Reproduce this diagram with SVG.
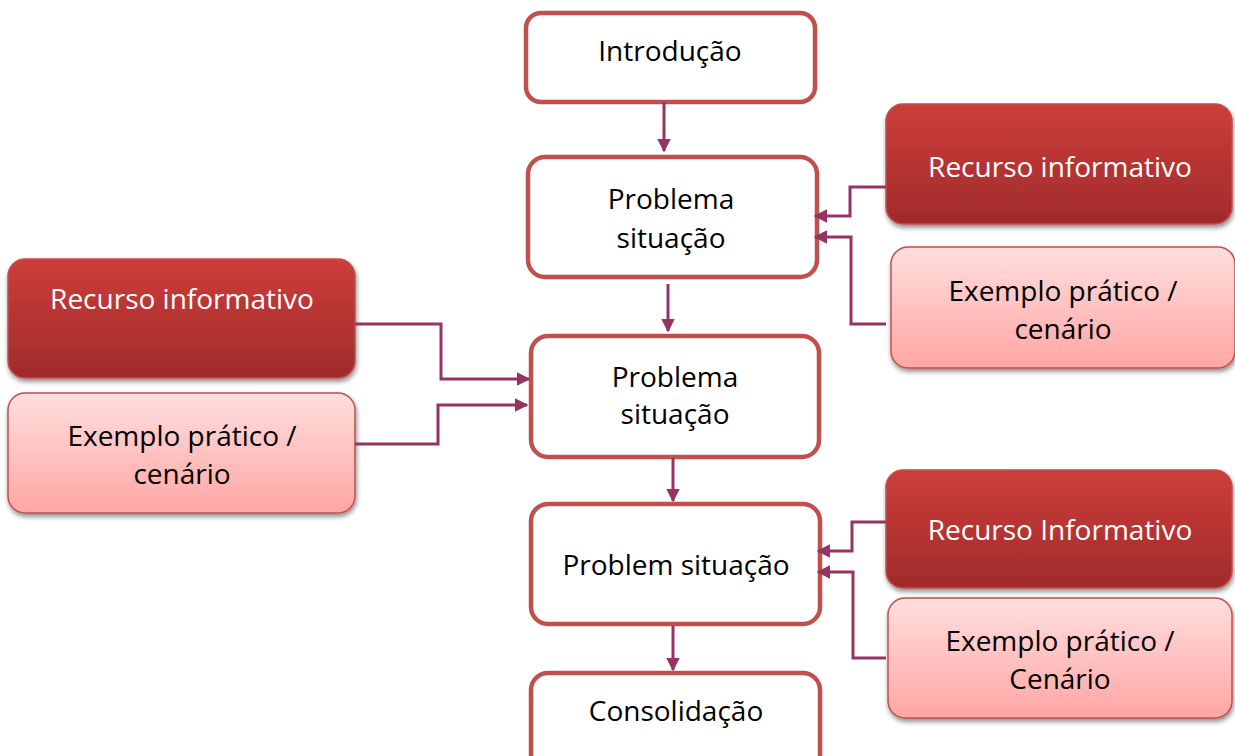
<svg xmlns="http://www.w3.org/2000/svg" width="1235" height="756" viewBox="0 0 1235 756">
  <defs>
    <linearGradient id="gDark" x1="0" y1="0" x2="0" y2="1">
      <stop offset="0" stop-color="#cd3d3a"/>
      <stop offset="1" stop-color="#a02b2b"/>
    </linearGradient>
    <linearGradient id="gLight" x1="0" y1="0" x2="0" y2="1">
      <stop offset="0" stop-color="#ffdede"/>
      <stop offset="1" stop-color="#ffa6a4"/>
    </linearGradient>
    <filter id="shadow" x="-10%" y="-10%" width="125%" height="130%">
      <feGaussianBlur in="SourceAlpha" stdDeviation="2.5"/>
      <feOffset dx="1" dy="3" result="b"/>
      <feComponentTransfer><feFuncA type="linear" slope="0.45"/></feComponentTransfer>
      <feMerge><feMergeNode/><feMergeNode in="SourceGraphic"/></feMerge>
    </filter>
    <marker id="arrow" viewBox="0 0 10 10" refX="9" refY="5" markerWidth="4.5" markerHeight="4.5" markerUnits="strokeWidth" orient="auto">
      <path d="M0,0 L10,5 L0,10 z" fill="#953463"/>
    </marker>
  </defs>
  <style>
    .step { fill: #ffffff; stroke: #c0504d; stroke-width: 4.5; }
    .dark { fill: url(#gDark); stroke: #c0504d; stroke-width: 1.5; filter: url(#shadow); }
    .light { fill: url(#gLight); stroke: #c0504d; stroke-width: 1.5; filter: url(#shadow); }
    text { font-family: "Open Sans", "Noto Sans", "Liberation Sans", sans-serif; font-size: 28px; text-anchor: middle; fill: #000000; }
    .white { fill: #ffffff; }
    .conn { fill: none; stroke: #953463; stroke-width: 3; marker-end: url(#arrow); }
  </style>

  <!-- main sequence -->
  <g id="introducao">
    <rect class="step" x="526" y="13" width="289" height="89" rx="15"/>
    <text x="670" y="61">Introdução</text>
  </g>
  <g id="problema1">
    <rect class="step" x="528" y="157" width="289" height="120" rx="17"/>
    <text x="671" y="209">Problema</text>
    <text x="671" y="248">situação</text>
  </g>
  <g id="problema2">
    <rect class="step" x="531" y="336" width="288" height="121" rx="17"/>
    <text x="675" y="387">Problema</text>
    <text x="675" y="424">situação</text>
  </g>
  <g id="problema3">
    <rect class="step" x="531" y="504" width="289" height="120" rx="17"/>
    <text x="676" y="575">Problem situação</text>
  </g>
  <g id="consolidacao">
    <rect class="step" x="531" y="673" width="289" height="100" rx="17"/>
    <text x="676" y="721">Consolidação</text>
  </g>

  <!-- resources for the first problem -->
  <g id="recurso1">
    <rect class="dark" x="886" y="104" width="346" height="120" rx="17"/>
    <text class="white" x="1060" y="177">Recurso informativo</text>
  </g>
  <g id="exemplo1">
    <rect class="light" x="891" y="247" width="344" height="121" rx="17"/>
    <text x="1063" y="301">Exemplo prático /</text>
    <text x="1063" y="339">cenário</text>
  </g>

  <!-- resources for the second problem -->
  <g id="recurso2">
    <rect class="dark" x="8" y="259" width="347" height="119" rx="17"/>
    <text class="white" x="182" y="309">Recurso informativo</text>
  </g>
  <g id="exemplo2">
    <rect class="light" x="8" y="393" width="347" height="120" rx="17"/>
    <text x="182" y="446">Exemplo prático /</text>
    <text x="182" y="484">cenário</text>
  </g>

  <!-- resources for the third problem -->
  <g id="recurso3">
    <rect class="dark" x="886" y="470" width="346" height="118" rx="17"/>
    <text class="white" x="1060" y="540">Recurso Informativo</text>
  </g>
  <g id="exemplo3">
    <rect class="light" x="888" y="598" width="344" height="120" rx="17"/>
    <text x="1060" y="651">Exemplo prático /</text>
    <text x="1060" y="689">Cenário</text>
  </g>

  <!-- connectors -->
  <g id="connectors">
    <path class="conn" d="M664,102 V151"/>
    <path class="conn" d="M668,284 V331"/>
    <path class="conn" d="M673,458 V501"/>
    <path class="conn" d="M673,626 V670"/>

    <path class="conn" d="M886,187 H850 V216 H815"/>
    <path class="conn" d="M886,324 H851 V237 H815"/>

    <path class="conn" d="M355,324 H441 V379 H529"/>
    <path class="conn" d="M355,444 H438 V405 H527"/>

    <path class="conn" d="M886,522 H852 V551 H818"/>
    <path class="conn" d="M886,658 H853 V572 H818"/>
  </g>
</svg>
